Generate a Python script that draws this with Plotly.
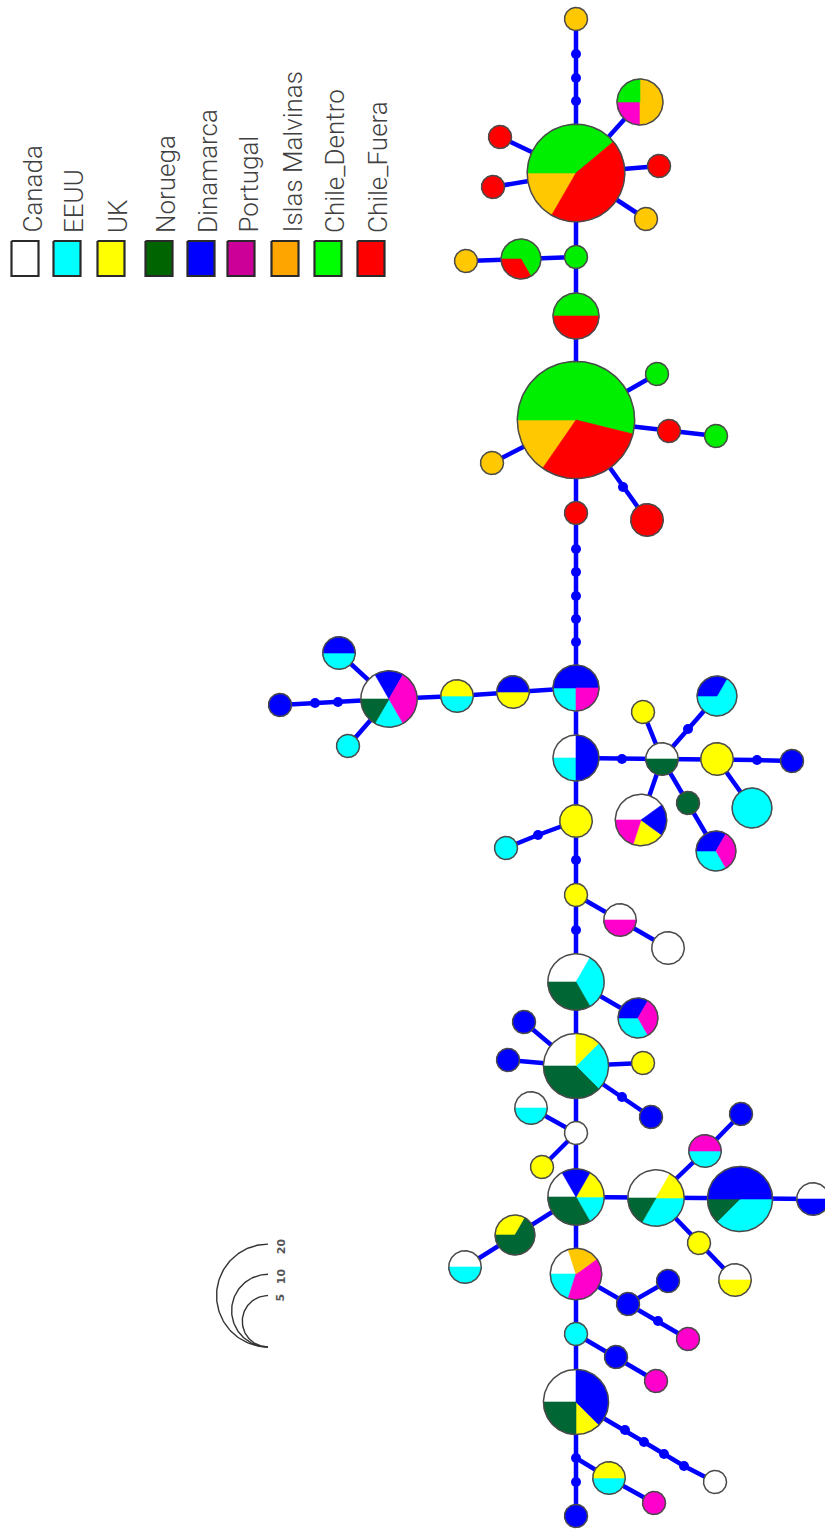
import numpy as np
import plotly.graph_objects as go

# Populations (legend order) and their colours
populations = ["Canada", "EEUU", "UK", "Noruega", "Dinamarca", "Portugal",
               "Islas Malvinas", "Chile_Dentro", "Chile_Fuera"]
pop_codes = ["CA", "US", "UK", "NO", "DK", "PT", "FK", "CD", "CF"]
slice_colors = ["#FFFFFF", "#00FFFF", "#FFFF00", "#006633", "#0000FF",
                "#FF00CC", "#FFC800", "#00EE00", "#FF0000"]
legend_colors = ["#FFFFFF", "#00FFFF", "#FFFF00", "#006400", "#0000FF",
                 "#CC0099", "#FFA500", "#00FF00", "#FF0000"]

# Haplotype layout positions (network layout coordinates)
hap_ids = ["H%02d" % i for i in range(1, 73)]
hap_x = [576, 576, 640, 500, 493, 659, 646, 576, 521, 466,
         576, 576, 657, 669, 716, 492, 647, 576, 576, 513,
         457, 389, 339, 348, 280, 576, 662, 643, 717, 717,
         792, 752, 688, 716, 641, 576, 506, 576, 620, 668,
         576, 638, 576, 524, 508, 643, 651, 531, 576, 542,
         576, 656, 740, 813, 705, 741, 699, 735, 515, 465,
         576, 628, 668, 688, 576, 616, 656, 576, 715, 609,
         654, 576]
hap_y = [19, 173, 102, 137, 187, 166, 219, 257, 259, 261,
         316, 420, 374, 431, 436, 463, 520, 513, 688, 692,
         696, 699, 653, 746, 705, 758, 759, 712, 696, 759,
         761, 808, 803, 851, 820, 821, 848, 895, 920, 948,
         982, 1018, 1066, 1022, 1060, 1063, 1117, 1108, 1133, 1167,
         1197, 1198, 1199, 1199, 1151, 1114, 1243, 1280, 1235, 1267,
         1274, 1304, 1281, 1339, 1334, 1357, 1381, 1402, 1482, 1478,
         1503, 1516]

# Haplotype composition: (population code, individuals), slices in drawing order
hap_counts = [
    [("FK", 1)],
    [("CD", 7), ("CF", 8), ("FK", 3)],
    [("CD", 1), ("FK", 2), ("PT", 1)],
    [("CF", 1)],
    [("CF", 1)],
    [("CF", 1)],
    [("FK", 1)],
    [("CD", 1)],
    [("CD", 2), ("CF", 1)],
    [("FK", 1)],
    [("CD", 2), ("CF", 2)],
    [("CD", 14), ("CF", 8), ("FK", 4)],
    [("CD", 1)],
    [("CF", 1)],
    [("CD", 1)],
    [("FK", 1)],
    [("CF", 2)],
    [("CF", 1)],
    [("DK", 2), ("PT", 1), ("US", 1)],
    [("DK", 1), ("UK", 1)],
    [("UK", 1), ("US", 1)],
    [("CA", 1), ("DK", 1), ("PT", 2), ("US", 1), ("NO", 1)],
    [("DK", 1), ("US", 1)],
    [("US", 1)],
    [("DK", 1)],
    [("CA", 1), ("DK", 2), ("US", 1)],
    [("CA", 1), ("NO", 1)],
    [("UK", 1)],
    [("DK", 1), ("US", 2)],
    [("UK", 2)],
    [("DK", 1)],
    [("US", 3)],
    [("NO", 1)],
    [("DK", 1), ("PT", 1), ("US", 1)],
    [("CA", 2), ("DK", 1), ("UK", 1), ("PT", 1)],
    [("UK", 2)],
    [("US", 1)],
    [("UK", 1)],
    [("CA", 1), ("PT", 1)],
    [("CA", 2)],
    [("CA", 2), ("US", 2), ("NO", 2)],
    [("DK", 1), ("PT", 1), ("US", 1)],
    [("CA", 2), ("UK", 1), ("US", 2), ("NO", 3)],
    [("DK", 1)],
    [("DK", 1)],
    [("UK", 1)],
    [("DK", 1)],
    [("CA", 1), ("US", 1)],
    [("CA", 1)],
    [("UK", 1)],
    [("CA", 1), ("DK", 1), ("UK", 1), ("US", 1), ("NO", 2)],
    [("CA", 2), ("UK", 1), ("US", 2), ("NO", 1)],
    [("DK", 4), ("US", 3), ("NO", 1)],
    [("CA", 1), ("DK", 1)],
    [("PT", 1), ("US", 1)],
    [("DK", 1)],
    [("UK", 1)],
    [("CA", 1), ("UK", 1)],
    [("UK", 1), ("NO", 2)],
    [("CA", 1), ("US", 1)],
    [("CA", 1), ("FK", 1), ("PT", 2), ("US", 1)],
    [("DK", 1)],
    [("DK", 1)],
    [("PT", 1)],
    [("US", 1)],
    [("DK", 1)],
    [("PT", 1)],
    [("CA", 2), ("DK", 3), ("UK", 1), ("NO", 2)],
    [("CA", 1)],
    [("UK", 1), ("US", 1)],
    [("PT", 1)],
    [("DK", 1)],
]

# Median vectors (inferred, unsampled haplotypes)
mv_ids = ["M%02d" % i for i in range(1, 26)]
mv_x = [576, 576, 576, 623, 576, 576, 576, 576, 576, 338, 315, 622, 688,
        757, 538, 576, 576, 622, 658, 625, 644, 664, 684, 576, 576]
mv_y = [54, 78, 101, 487, 549, 572, 596, 619, 642, 702, 703, 759, 729,
        760, 835, 860, 930, 1097, 1321, 1430, 1442, 1454, 1466, 1458, 1482]

# Network links, given as chains of connected nodes
link_chains = [
    ["H01", "M01", "M02", "M03", "H02", "H08", "H11", "H12", "H18", "M05", "M06",
     "M07", "M08", "M09", "H19", "H26", "H36", "M16", "H38", "M17", "H41", "H43",
     "H49", "H51", "H61", "H65", "H68", "M24", "M25", "H72"],
    ["H02", "H03"], ["H02", "H04"], ["H02", "H05"], ["H02", "H06"], ["H02", "H07"],
    ["H08", "H09", "H10"],
    ["H12", "H13"], ["H12", "H14", "H15"], ["H12", "H16"], ["H12", "M04", "H17"],
    ["H19", "H20", "H21", "H22", "H23"], ["H22", "H24"], ["H22", "M10", "M11", "H25"],
    ["H26", "M12", "H27"], ["H27", "H28"], ["H27", "M13", "H29"],
    ["H27", "H30", "M14", "H31"], ["H30", "H32"], ["H27", "H33", "H34"], ["H27", "H35"],
    ["H36", "M15", "H37"],
    ["H38", "H39", "H40"],
    ["H41", "H42"],
    ["H43", "H44"], ["H43", "H45"], ["H43", "H46"], ["H43", "M18", "H47"],
    ["H49", "H48"], ["H49", "H50"],
    ["H51", "H52", "H53", "H54"], ["H52", "H55", "H56"], ["H52", "H57", "H58"],
    ["H51", "H59", "H60"],
    ["H61", "H62", "H63"], ["H62", "M19", "H64"],
    ["H65", "H66", "H67"],
    ["H68", "M20", "M21", "M22", "M23", "H69"],
    ["M24", "H70", "H71"],
]

# Size legend values (individuals)
size_legend_values = [5, 10, 20]

RADIUS_UNIT = 11.5  # radius of a one-individual haplotype


def node_radius(n):
    return RADIUS_UNIT * np.sqrt(n)


pos = {}
for i, h in enumerate(hap_ids):
    pos[h] = (hap_x[i], hap_y[i])
for i, m in enumerate(mv_ids):
    pos[m] = (mv_x[i], mv_y[i])

fig = go.Figure()

# links
lx, ly = [], []
for chain in link_chains:
    for node in chain:
        lx.append(pos[node][0])
        ly.append(pos[node][1])
    lx.append(None)
    ly.append(None)
fig.add_trace(go.Scatter(x=lx, y=ly, mode="lines",
                         line=dict(color="#0000FF", width=4.5),
                         hoverinfo="skip"))

# median vectors
fig.add_trace(go.Scatter(x=mv_x, y=mv_y, mode="markers",
                         marker=dict(color="#0000FF", size=10, line=dict(width=0)),
                         hoverinfo="skip"))

# pie slices, one trace per population
slice_paths = {c: ([], []) for c in pop_codes}
outline_x, outline_y = [], []
for i, comp in enumerate(hap_counts):
    cx, cy = hap_x[i], hap_y[i]
    total = sum(v for _, v in comp)
    r = node_radius(total)
    start = 180.0
    for code, v in comp:
        span = 360.0 * v / total
        xs, ys = slice_paths[code]
        if v == total:
            th = np.radians(np.linspace(0, 360, 121))
            xs.extend(list(cx + r * np.cos(th)) + [None])
            ys.extend(list(cy - r * np.sin(th)) + [None])
        else:
            nseg = max(int(span / 3), 4)
            th = np.radians(np.linspace(start, start - span, nseg + 1))
            xs.extend([cx] + list(cx + r * np.cos(th)) + [cx, None])
            ys.extend([cy] + list(cy - r * np.sin(th)) + [cy, None])
        start -= span
    th = np.radians(np.linspace(0, 360, 121))
    outline_x.extend(list(cx + r * np.cos(th)) + [None])
    outline_y.extend(list(cy - r * np.sin(th)) + [None])

for code, col in zip(pop_codes, slice_colors):
    xs, ys = slice_paths[code]
    if not xs:
        continue
    fig.add_trace(go.Scatter(x=xs, y=ys, mode="lines", fill="toself",
                             fillcolor=col, line=dict(color=col, width=0.6),
                             hoverinfo="skip"))

fig.add_trace(go.Scatter(x=outline_x, y=outline_y, mode="lines",
                         line=dict(color="#4a4a4a", width=1.5),
                         hoverinfo="skip"))

# colour legend
leg_cx = [25, 67, 111, 159, 201, 241, 285, 328, 371]
leg_top, leg_bot, leg_hw = 241, 276, 13.5
annotations = []
for name, col, x0 in zip(populations, legend_colors, leg_cx):
    fig.add_trace(go.Scatter(
        x=[x0 - leg_hw, x0 + leg_hw, x0 + leg_hw, x0 - leg_hw, x0 - leg_hw],
        y=[leg_top, leg_top, leg_bot, leg_bot, leg_top],
        mode="lines", fill="toself", fillcolor=col,
        line=dict(color="#2a2a2a", width=2.2), hoverinfo="skip"))
    annotations.append(dict(
        x=x0 + 7, y=235, xref="x", yref="y", text=name, showarrow=False,
        textangle=-90, xanchor="center", yanchor="bottom",
        font=dict(family="Roboto", size=26, color="#404040", weight=300)))

# size legend: nested half circles sharing the lowest point
base_x, base_y = 268, 1347
for v in size_legend_values:
    r = node_radius(v)
    ccx, ccy = base_x, base_y - r
    ph = np.linspace(0, np.pi, 90)
    fig.add_trace(go.Scatter(x=ccx - r * np.sin(ph), y=ccy + r * np.cos(ph),
                             mode="lines", line=dict(color="#333333", width=1.4),
                             hoverinfo="skip"))
    annotations.append(dict(
        x=base_x + 13, y=ccy - r + 2, xref="x", yref="y", text="<b>%d</b>" % v,
        showarrow=False, textangle=-90, xanchor="center", yanchor="middle",
        font=dict(family="DejaVu Sans", size=11, color="#555555")))

fig.update_layout(
    width=825, height=1531,
    margin=dict(l=0, r=0, t=0, b=0),
    paper_bgcolor="white", plot_bgcolor="white",
    showlegend=False,
    xaxis=dict(range=[0, 825], visible=False, fixedrange=True),
    yaxis=dict(range=[1531, 0], visible=False, fixedrange=True),
    annotations=annotations,
)

fig.write_html("out.html")
